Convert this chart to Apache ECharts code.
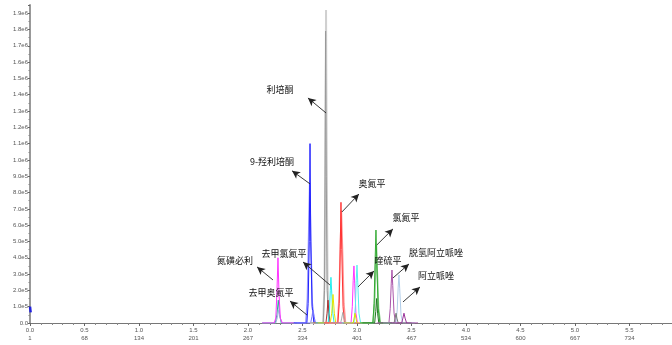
<!DOCTYPE html>
<html>
<head>
<meta charset="utf-8">
<script src="https://cdn.jsdelivr.net/npm/echarts@6/dist/echarts.min.js"></script>
<style>html,body{margin:0;padding:0;background:#fff;}#c{width:672px;height:345px;}</style>
</head>
<body>
<div id="c"></div>
<script>
// ---- axis tick labels ----
const scanLabels = ['1','68','134','201','267','334','401','467','534','600','667','734'];

// ---- peak traces: [time (min), intensity (cps)] ----
const blueStart = [[0,1.0e5],[0.006,0.65e5]];
const sulpiride = [[2.13,0],[2.24,0],[2.255,0.3e5],[2.265,1.8e5],[2.275,4.0e5],[2.285,1.7e5],[2.297,0.3e5],[2.315,0],[2.43,0]];
const tealA = [[2.13,0],[2.25,0],[2.265,0.5e5],[2.278,1.4e5],[2.29,0.5e5],[2.305,0],[2.43,0]];
const lightBlueA = [[2.13,0],[2.255,0],[2.27,0.35e5],[2.282,0.8e5],[2.294,0.35e5],[2.31,0],[2.43,0]];
const hydroxyRisperidone = [[2.42,0],[2.54,0],[2.552,1.2e5],[2.562,5.0e5],[2.569,11.0e5],[2.576,5.0e5],[2.588,1.0e5],[2.605,0],[2.72,0]];
const lavenderB = [[2.42,0],[2.53,0],[2.545,1.5e5],[2.558,6.0e5],[2.566,8.6e5],[2.575,5.5e5],[2.59,1.2e5],[2.61,0],[2.72,0]];
const norOlanzapine = [[2.45,0],[2.575,0],[2.587,0.4e5],[2.596,0.8e5],[2.606,0.4e5],[2.62,0],[2.75,0]];
const risperidoneLight = [[2.57,0],[2.69,0],[2.702,2.5e5],[2.71,10.0e5],[2.716,19.2e5],[2.722,10.0e5],[2.73,2.5e5],[2.745,0],[2.87,0]];
const risperidone = [[2.57,0],[2.69,0],[2.702,2.0e5],[2.707,9.0e5],[2.712,17.9e5],[2.718,9.0e5],[2.726,2.0e5],[2.74,0],[2.87,0]];
const darkRedE = [[2.6,0],[2.715,0],[2.725,0.6e5],[2.734,1.4e5],[2.743,0.6e5],[2.755,0],[2.88,0]];
const norClozapine = [[2.62,0],[2.735,0],[2.748,0.8e5],[2.755,2.0e5],[2.761,2.8e5],[2.768,1.9e5],[2.778,0.6e5],[2.79,0],[2.91,0]];
const yellowG = [[2.64,0],[2.755,0],[2.768,0.6e5],[2.78,1.75e5],[2.792,0.6e5],[2.805,0],[2.93,0]];
const olanzapine = [[2.7,0],[2.825,0],[2.837,1.2e5],[2.846,4.5e5],[2.853,7.4e5],[2.86,4.5e5],[2.872,1.0e5],[2.885,0],[3.0,0]];
const olanzapineLight = [[2.7,0],[2.82,0],[2.835,1.5e5],[2.848,5.0e5],[2.857,6.9e5],[2.866,4.8e5],[2.88,1.2e5],[2.895,0],[3.0,0]];
const graySmallH = [[2.75,0],[2.85,0],[2.86,0.3e5],[2.87,0.65e5],[2.88,0.3e5],[2.895,0],[3.0,0]];
const magentaI = [[2.83,0],[2.945,0],[2.957,1.0e5],[2.965,2.6e5],[2.972,3.5e5],[2.979,2.4e5],[2.99,0.6e5],[3.005,0],[3.12,0]];
const quetiapine = [[2.86,0],[2.972,0],[2.985,1.0e5],[2.993,2.6e5],[3.0,3.55e5],[3.007,2.5e5],[3.018,0.6e5],[3.033,0],[3.15,0]];
const yellowSmallJ = [[2.88,0],[2.965,0],[2.974,0.3e5],[2.982,0.6e5],[2.99,0.3e5],[3.0,0],[3.12,0]];
const clozapine = [[3.03,0],[3.145,0],[3.157,1.2e5],[3.166,3.8e5],[3.174,5.7e5],[3.182,3.6e5],[3.194,0.9e5],[3.21,0],[3.32,0]];
const clozapineLight = [[3.03,0],[3.148,0],[3.162,1.4e5],[3.171,3.5e5],[3.178,4.8e5],[3.186,3.2e5],[3.198,0.9e5],[3.215,0],[3.32,0]];
const darkGreenK = [[3.05,0],[3.162,0],[3.172,0.7e5],[3.18,1.5e5],[3.189,0.6e5],[3.2,0],[3.32,0]];
const dehydroAripiprazole = [[3.18,0],[3.293,0],[3.305,0.9e5],[3.314,2.4e5],[3.321,3.25e5],[3.328,2.3e5],[3.34,0.6e5],[3.355,0],[3.47,0]];
const aripiprazole = [[3.24,0],[3.357,0],[3.369,0.8e5],[3.378,2.2e5],[3.385,2.95e5],[3.392,2.1e5],[3.404,0.5e5],[3.42,0],[3.53,0]];
const graySmallN = [[3.22,0],[3.34,0],[3.35,0.3e5],[3.358,0.6e5],[3.366,0.3e5],[3.378,0],[3.5,0]];
const purpleSmallN = [[3.3,0],[3.41,0],[3.421,0.3e5],[3.431,0.6e5],[3.441,0.3e5],[3.455,0],[3.56,0]];

// ---- annotations: label, label position, arrow tail (peak side), arrow head (label side) ----
const annLabels = ['利培酮','9-羟利培酮','奥氮平','氯氮平','脱氢阿立哌唑','阿立哌唑','喹硫平','去甲氯氮平','氮磺必利','去甲奥氮平'];
const annTextPos = [[2.294,14.29e5],[2.220,9.88e5],[3.138,8.53e5],[3.450,6.44e5],[3.725,4.29e5],[3.725,2.88e5],[3.284,3.80e5],[2.330,4.23e5],[1.881,3.80e5],[2.211,1.84e5]];
const annTail = [[2.716,12.88e5],[2.569,8.53e5],[2.862,6.81e5],[3.183,4.79e5],[3.330,2.76e5],[3.422,1.29e5],[3.009,2.21e5],[2.752,2.33e5],[2.229,2.64e5],[2.541,0.49e5]];
const annHead = [[2.550,13.80e5],[2.404,9.33e5],[3.018,7.91e5],[3.330,5.77e5],[3.477,3.62e5],[3.578,2.21e5],[3.156,3.19e5],[2.505,3.74e5],[2.083,3.44e5],[2.385,1.35e5]];

const traces = [
  [blueStart,'#2222dd',2.5],
  [tealA,'#33aa99',1],
  [lightBlueA,'#99bbdd',1],
  [sulpiride,'#ff33ff',1],
  [lavenderB,'#9999ff',1.5],
  [hydroxyRisperidone,'#2222ff',1],
  [norOlanzapine,'#7777ff',1],
  [risperidoneLight,'#d0d0d0',2],
  [risperidone,'#999999',1],
  [darkRedE,'#aa3333',1],
  [norClozapine,'#22eeee',1],
  [yellowG,'#e6e600',1],
  [olanzapineLight,'#ff9999',1.5],
  [olanzapine,'#ff3333',1],
  [graySmallH,'#aaaaaa',1],
  [magentaI,'#ff33ff',1],
  [quetiapine,'#55eeee',1],
  [yellowSmallJ,'#dddd00',1],
  [clozapineLight,'#88cc88',1.5],
  [clozapine,'#33aa33',1],
  [darkGreenK,'#227722',1],
  [dehydroAripiprazole,'#aa55aa',1],
  [aripiprazole,'#b0cce8',1],
  [graySmallN,'#777777',1],
  [purpleSmallN,'#993399',1]
];

const series = traces.map(function (t) {
  return {
    type: 'line', data: t[0], showSymbol: false, symbol: 'none',
    lineStyle: { color: t[1], width: t[2] }, itemStyle: { color: t[1] },
    silent: true, animation: false
  };
});

series.push({
  type: 'line', data: [[0, 0]], showSymbol: false, symbol: 'none', silent: true, animation: false,
  lineStyle: { width: 0 },
  markLine: {
    silent: true, animation: false,
    symbol: ['none', 'arrow'], symbolSize: [6, 8],
    lineStyle: { color: '#222', width: 0.9, type: 'solid' },
    label: { show: false },
    data: annTail.map(function (p, i) { return [{ coord: p }, { coord: annHead[i] }]; })
  },
  markPoint: {
    silent: true, animation: false,
    symbol: 'circle', symbolSize: 1,
    itemStyle: { color: 'rgba(0,0,0,0)' },
    label: { show: true, position: 'inside', color: '#111', fontSize: 9, fontFamily: 'Noto Sans CJK SC' },
    data: annTextPos.map(function (p, i) { return { coord: p, value: annLabels[i], label: { formatter: annLabels[i] } }; })
  }
});

const chart = echarts.init(document.getElementById('c'), null, { renderer: 'canvas' });
chart.setOption({
  animation: false,
  backgroundColor: '#fff',
  grid: { left: 30, right: 0, top: 5, bottom: 22, containLabel: false, outerBoundsMode: 'none' },
  xAxis: {
    type: 'value', min: 0, max: 5.89, interval: 0.5,
    name: 'Time, min', nameLocation: 'middle', nameGap: 17,
    nameTextStyle: { fontSize: 6, color: '#555', fontFamily: 'Liberation Sans' },
    axisLine: { lineStyle: { color: '#777', width: 1 } },
    axisTick: { length: 3, lineStyle: { color: '#666' } },
    minorTick: { show: true, splitNumber: 5, length: 2, lineStyle: { color: '#888' } },
    splitLine: { show: false },
    axisLabel: {
      fontSize: 6, color: '#555', fontFamily: 'Liberation Sans', margin: 3, lineHeight: 8, showMaxLabel: false,
      formatter: function (v) {
        const i = Math.round(v / 0.5);
        if (Math.abs(v - i * 0.5) > 1e-6) return '';
        return (i * 0.5).toFixed(1) + '\n' + scanLabels[i];
      }
    }
  },
  yAxis: {
    type: 'value', min: 0, max: 1.95e6, interval: 1e5,
    axisLine: { show: true, lineStyle: { color: '#999', width: 2 } },
    axisTick: { show: true, length: 2, lineStyle: { color: '#666' } },
    minorTick: { show: true, splitNumber: 2, length: 1.5, lineStyle: { color: '#888' } },
    splitLine: { show: false },
    axisLabel: {
      fontSize: 6, color: '#555', fontFamily: 'Liberation Sans', margin: 2, showMaxLabel: false,
      formatter: function (v) {
        const k = Math.round(v / 1e5);
        if (Math.abs(v - k * 1e5) > 1) return '';
        if (k === 0) return '0.0';
        if (k >= 10) return (k / 10).toFixed(1) + 'e6';
        return k.toFixed(1) + 'e5';
      }
    }
  },
  series: series
});
</script>
</body>
</html>
